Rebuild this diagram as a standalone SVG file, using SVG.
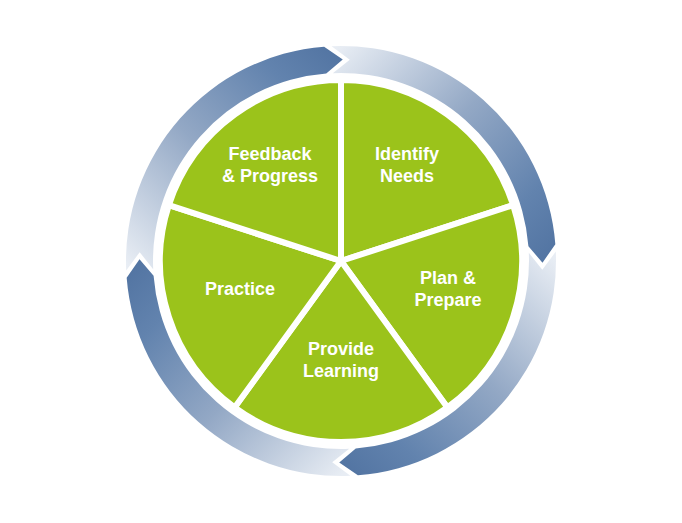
<svg xmlns="http://www.w3.org/2000/svg" width="682" height="523" viewBox="0 0 682 523">
  <defs>
    <style>
      .slice { fill: #9bc31b; stroke: #ffffff; stroke-width: 6; stroke-linejoin: miter; }
      .label { font-family: "Liberation Sans", Arial, Helvetica, sans-serif; font-weight: bold; font-size: 18px; fill: #ffffff; text-anchor: middle; }
    </style>
    <linearGradient id="g1" gradientUnits="userSpaceOnUse" x1="132" y1="270" x2="338" y2="52">
      <stop offset="0" stop-color="#e8edf4"/>
      <stop offset="0.45" stop-color="#93a8c5"/>
      <stop offset="0.8" stop-color="#6283ae"/>
      <stop offset="1" stop-color="#5274a2"/>
    </linearGradient>
    <linearGradient id="g2" gradientUnits="userSpaceOnUse" x1="333" y1="52" x2="550" y2="258">
      <stop offset="0" stop-color="#e8edf4"/>
      <stop offset="0.45" stop-color="#93a8c5"/>
      <stop offset="0.8" stop-color="#6283ae"/>
      <stop offset="1" stop-color="#5274a2"/>
    </linearGradient>
    <linearGradient id="g3" gradientUnits="userSpaceOnUse" x1="550" y1="253" x2="345" y2="470">
      <stop offset="0" stop-color="#e8edf4"/>
      <stop offset="0.45" stop-color="#93a8c5"/>
      <stop offset="0.8" stop-color="#6283ae"/>
      <stop offset="1" stop-color="#5274a2"/>
    </linearGradient>
    <linearGradient id="g4" gradientUnits="userSpaceOnUse" x1="348" y1="470" x2="132" y2="265">
      <stop offset="0" stop-color="#e8edf4"/>
      <stop offset="0.45" stop-color="#93a8c5"/>
      <stop offset="0.8" stop-color="#6283ae"/>
      <stop offset="1" stop-color="#5274a2"/>
    </linearGradient>
  </defs>
  <rect width="682" height="523" fill="#ffffff"/>

  <g id="connectors" transform="rotate(0.5 341 261)">
    <path id="arrow-left-top" fill="url(#g1)" d="M126.29,272.25 A215,215 0 0 1 322.26,46.82 L341,59.5 L324.61,73.72 A188,188 0 0 0 153.26,270.84 L139.62,253.97 Z"/>
    <path id="arrow-top-right" fill="url(#g2)" d="M329.75,46.29 A215,215 0 0 1 555.18,242.26 L542.5,261 L528.28,244.61 A188,188 0 0 0 331.16,73.26 L348.03,59.62 Z"/>
    <path id="arrow-right-bottom" fill="url(#g3)" d="M555.71,249.75 A215,215 0 0 1 359.74,475.18 L341,462.5 L357.39,448.28 A188,188 0 0 0 528.74,251.16 L542.38,268.03 Z"/>
    <path id="arrow-bottom-left" fill="url(#g4)" d="M352.25,475.71 A215,215 0 0 1 126.82,279.74 L139.5,261 L153.72,277.39 A188,188 0 0 0 350.84,448.74 L333.97,462.38 Z"/>
  </g>

  <g id="identify-needs">
    <path class="slice" d="M341,261 L341,80 A181,181 0 0 1 513.14,205.07 Z"/>
    <text class="label" x="407" y="160">Identify</text>
    <text class="label" x="407" y="182">Needs</text>
  </g>
  <g id="plan-prepare">
    <path class="slice" d="M341,261 L513.14,205.07 A181,181 0 0 1 447.39,407.43 Z"/>
    <text class="label" x="448" y="284">Plan &amp;</text>
    <text class="label" x="448" y="306">Prepare</text>
  </g>
  <g id="provide-learning">
    <path class="slice" d="M341,261 L447.39,407.43 A181,181 0 0 1 234.61,407.43 Z"/>
    <text class="label" x="341" y="355">Provide</text>
    <text class="label" x="341" y="377">Learning</text>
  </g>
  <g id="practice">
    <path class="slice" d="M341,261 L234.61,407.43 A181,181 0 0 1 168.86,205.07 Z"/>
    <text class="label" x="240" y="295">Practice</text>
  </g>
  <g id="feedback-progress">
    <path class="slice" d="M341,261 L168.86,205.07 A181,181 0 0 1 341,80 Z"/>
    <text class="label" x="270" y="160">Feedback</text>
    <text class="label" x="270" y="182">&amp; Progress</text>
  </g>
</svg>
